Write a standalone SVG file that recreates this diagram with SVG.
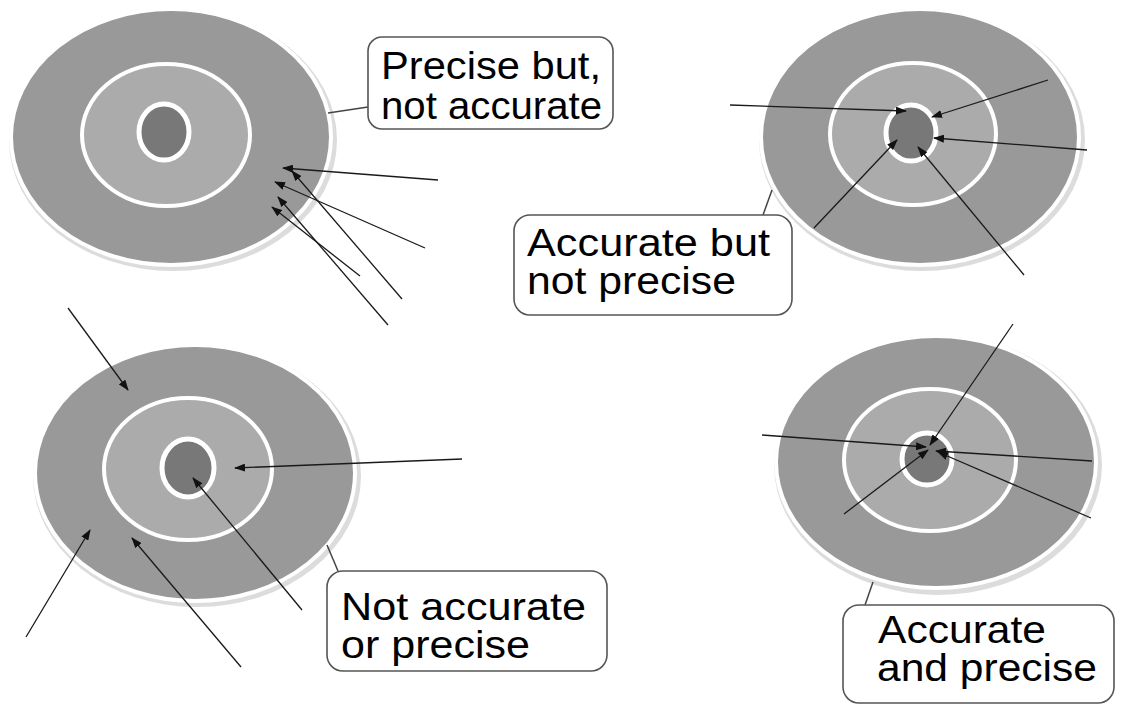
<svg xmlns="http://www.w3.org/2000/svg" width="1125" height="705" viewBox="0 0 1125 705">
<style>
.shadow{fill:#dcdcdc}
.outer{fill:#999999;stroke:#ffffff;stroke-width:4}
.mid{fill:#ababab;stroke:#ffffff;stroke-width:4}
.inner{fill:#787878;stroke:#ffffff;stroke-width:5}
.arrow{stroke:#1a1a1a;stroke-width:1.3;fill:none;marker-end:url(#ah)}
.lead{stroke:#444444;stroke-width:1.5;fill:none}
.box{fill:#ffffff;stroke:#555555;stroke-width:1.6}
.lbl{font-family:"Liberation Sans",Arial,sans-serif;font-size:38px;fill:#000000}
</style>
<defs>
<marker id="ah" markerWidth="11" markerHeight="8" refX="10" refY="4" orient="auto" markerUnits="userSpaceOnUse">
<path d="M0,0 L11,4 L0,8 z" fill="#111111"/>
</marker>
</defs>
<rect width="1125" height="705" fill="#ffffff"/>

<g id="target-top-left">
<ellipse class="shadow" cx="173" cy="140" rx="164" ry="131"/>
<ellipse class="outer" cx="171" cy="137" rx="160" ry="128"/>
<ellipse class="mid" cx="166" cy="135" rx="84" ry="71"/>
<ellipse class="inner" cx="164" cy="132" rx="25" ry="28"/>
</g>

<g id="target-top-right">
<ellipse class="shadow" cx="922" cy="140" rx="163" ry="131"/>
<ellipse class="outer" cx="920" cy="137" rx="159" ry="128"/>
<ellipse class="mid" cx="913" cy="134" rx="83" ry="71"/>
<ellipse class="inner" cx="911" cy="133" rx="25" ry="28"/>
</g>

<g id="target-bottom-left">
<ellipse class="shadow" cx="197" cy="476" rx="164" ry="131"/>
<ellipse class="outer" cx="195" cy="473" rx="160" ry="128"/>
<ellipse class="mid" cx="188" cy="469" rx="84" ry="71"/>
<ellipse class="inner" cx="188" cy="468" rx="26" ry="29"/>
</g>

<g id="target-bottom-right">
<ellipse class="shadow" cx="938" cy="465" rx="164" ry="130"/>
<ellipse class="outer" cx="936" cy="462" rx="160" ry="126"/>
<ellipse class="mid" cx="930" cy="460" rx="86" ry="71"/>
<ellipse class="inner" cx="927" cy="459" rx="25" ry="26"/>
</g>

<g id="connectors">
<line class="lead" x1="328" y1="113" x2="368" y2="107"/>
<line class="lead" x1="763" y1="215" x2="772" y2="190"/>
<line class="lead" x1="338" y1="571" x2="327" y2="545"/>
<line class="lead" x1="865" y1="605" x2="873" y2="582"/>

<line class="arrow" x1="438" y1="180" x2="283" y2="168"/>
<line class="arrow" x1="402" y1="299" x2="292" y2="171"/>
<line class="arrow" x1="425" y1="248" x2="275" y2="182"/>
<line class="arrow" x1="360" y1="276" x2="272" y2="207"/>
<line class="arrow" x1="388" y1="325" x2="278" y2="197"/>

<line class="arrow" x1="730" y1="105" x2="906" y2="111"/>
<line class="arrow" x1="1048" y1="80" x2="932" y2="117"/>
<line class="arrow" x1="1087" y1="150" x2="934" y2="138"/>
<line class="arrow" x1="814" y1="228" x2="897" y2="140"/>
<line class="arrow" x1="1024" y1="275" x2="918" y2="147"/>

<line class="arrow" x1="68" y1="308" x2="128" y2="390"/>
<line class="arrow" x1="462" y1="459" x2="235" y2="468"/>
<line class="arrow" x1="302" y1="610" x2="193" y2="478"/>
<line class="arrow" x1="26" y1="637" x2="90" y2="530"/>
<line class="arrow" x1="241" y1="667" x2="132" y2="538"/>

<line class="arrow" x1="762" y1="435" x2="926" y2="447"/>
<line class="arrow" x1="1013" y1="324" x2="930" y2="445"/>
<line class="arrow" x1="844" y1="514" x2="928" y2="450"/>
<line class="arrow" x1="1092" y1="461" x2="936" y2="451"/>
<line class="arrow" x1="1091" y1="518" x2="938" y2="452"/>
</g>

<g id="label-precise-not-accurate">
<rect class="box" x="368" y="37" width="245" height="92" rx="14"/>
<text class="lbl" x="381" y="79" textLength="220" lengthAdjust="spacingAndGlyphs">Precise but,</text>
<text class="lbl" x="381" y="119" textLength="221" lengthAdjust="spacingAndGlyphs">not accurate</text>
</g>

<g id="label-accurate-not-precise">
<rect class="box" x="514" y="215" width="278" height="100" rx="16"/>
<text class="lbl" x="527" y="256" textLength="243" lengthAdjust="spacingAndGlyphs">Accurate but</text>
<text class="lbl" x="527" y="294" textLength="209" lengthAdjust="spacingAndGlyphs">not precise</text>
</g>

<g id="label-not-accurate-or-precise">
<rect class="box" x="327" y="571" width="280" height="100" rx="16"/>
<text class="lbl" x="341" y="620" textLength="245" lengthAdjust="spacingAndGlyphs">Not accurate</text>
<text class="lbl" x="341" y="658" textLength="189" lengthAdjust="spacingAndGlyphs">or precise</text>
</g>

<g id="label-accurate-and-precise">
<rect class="box" x="843" y="605" width="271" height="98" rx="16"/>
<text class="lbl" x="878" y="643" textLength="168" lengthAdjust="spacingAndGlyphs">Accurate</text>
<text class="lbl" x="877" y="681" textLength="220" lengthAdjust="spacingAndGlyphs">and precise</text>
</g>
</svg>
